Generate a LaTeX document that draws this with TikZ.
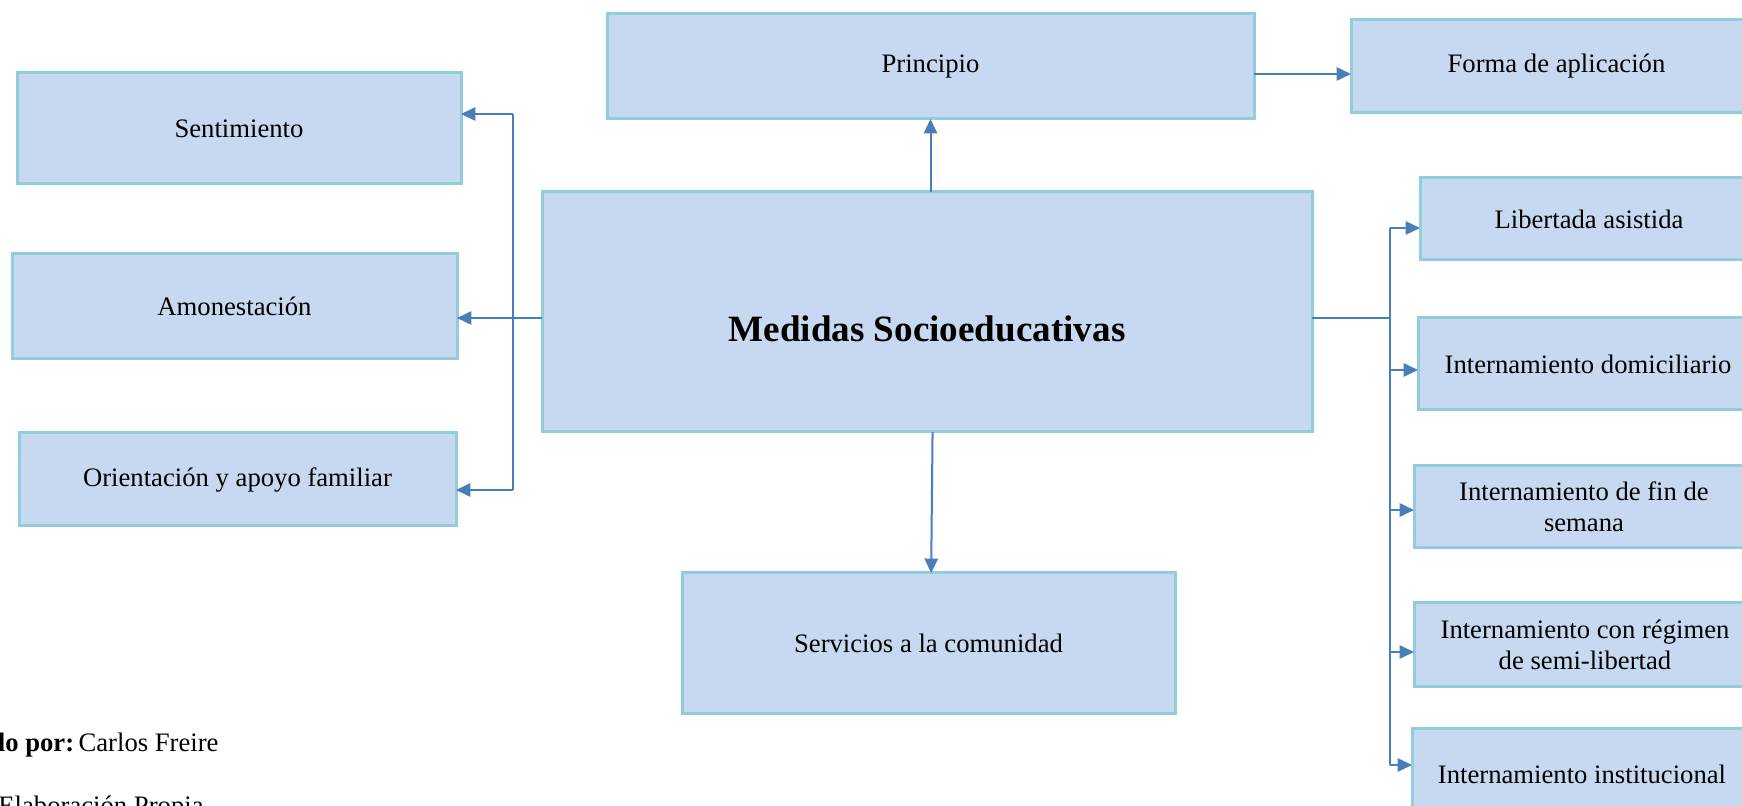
\documentclass[tikz,border=0pt]{standalone}
\usepackage{fontspec}
\setmainfont{Liberation Serif}
\usetikzlibrary{arrows.meta}
\definecolor{boxfill}{HTML}{C6D9F0}
\definecolor{boxline}{HTML}{92CDDC}
\definecolor{arrcol}{HTML}{4A7EBB}
\begin{document}
\begin{tikzpicture}[x=0.45pt,y=-0.45pt,
  box/.style={draw=boxline,fill=boxfill,line width=1.35pt,inner sep=0pt,outer sep=0pt,align=center,
    font=\fontsize{12}{13.8}\selectfont},
  sz/.style 2 args={minimum width={#1*0.45pt},minimum height={#2*0.45pt}},
  conn/.style={draw=arrcol,line width=0.9pt},
  arr/.style={conn,-{Triangle[length=6.5pt,width=6pt]}}]
\useasboundingbox (0,0) rectangle (1742,806);
% boxes
\node[box,sz={647}{105}] (prin) at (930.5,66.5) {Principio};
\node[box,sz={411}{93}] (forma) at (1556.5,66.5) {Forma de aplicación};
\node[box,sz={444}{111}] (sent) at (239,128.5) {Sentimiento};
\node[box,sz={445}{105}] (amon) at (234.5,306.5) {Amonestación};
\node[box,sz={437}{93}] (orie) at (237.5,479.5) {Orientación y apoyo familiar};
\node[box,sz={770}{240},font=\fontsize{16.7}{20}\selectfont\bfseries,text height=27pt] (med) at (927,312) {Medidas Socioeducativas};
\node[box,sz={493}{141}] (serv) at (928.5,643.5) {Servicios a la comunidad};
\node[box,sz={338}{82}] (lib) at (1589,219) {Libertada asistida};
\node[box,sz={340}{92}] (dom) at (1588,364) {Internamiento domiciliario};
\node[box,sz={340}{82}] (fin) at (1584,507) {Internamiento de fin de\\semana};
\node[box,sz={342}{84}] (reg) at (1585,645) {Internamiento con régimen\\de semi-libertad};
\node[box,sz={340}{101},text depth=4.5pt] (inst) at (1582,779.5) {Internamiento institucional};
% left connectors
\coordinate (lmid) at (513,318);
\coordinate (ltop) at (513,114);
\coordinate (lbot) at (513,490);
\draw[conn] (med.west |- lmid) -- (lmid);
\draw[conn] (ltop) -- (lbot);
\draw[arr] (lmid) -- (amon.east |- lmid);
\draw[arr] (ltop) -- (sent.east |- ltop);
\draw[arr] (lbot) -- (orie.east |- lbot);
% top connectors
\draw[arr] (med.north -| prin.south) -- (prin.south);
\coordinate (pf) at (1300,74);
\draw[arr] (prin.east |- pf) -- (forma.west |- pf);
% down
\draw[arr] ([xshift=2.5pt]med.south) -- ([xshift=1.2pt]serv.north);
% right connectors
\coordinate (rmid) at (1390,318);
\coordinate (r1) at (1390,228);
\coordinate (r2) at (1390,370);
\coordinate (r3) at (1390,510);
\coordinate (r4) at (1390,652);
\coordinate (r5) at (1390,765);
\draw[conn] (med.east |- rmid) -- (rmid);
\draw[conn] (r1) -- (r5);
\draw[arr] (r1) -- (lib.west |- r1);
\draw[arr] (r2) -- (dom.west |- r2);
\draw[arr] (r3) -- (fin.west |- r3);
\draw[arr] (r4) -- (reg.west |- r4);
\draw[arr] (r5) -- (inst.west |- r5);
% footer
\node[anchor=base west,inner sep=0pt,font=\fontsize{12}{13.8}\selectfont] (autor) at (-10,752) {\textbf{do por:}\,Carlos Freire};
\node[anchor=base west,inner sep=0pt,font=\fontsize{12}{13.8}\selectfont] (fuente) at (-2,815) {Elaboración Propia};
\end{tikzpicture}
\end{document}
